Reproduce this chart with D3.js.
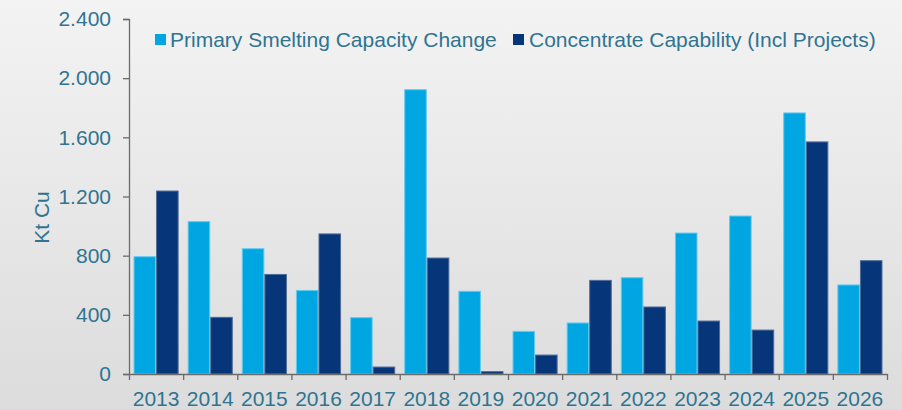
<!DOCTYPE html>
<html>
<head>
<meta charset="utf-8">
<script src="https://cdn.jsdelivr.net/npm/d3@7"></script>
<style>
  html, body { margin: 0; padding: 0; }
  body { width: 902px; height: 410px; overflow: hidden; }
  svg { display: block; font-family: 'Liberation Sans', Arial, sans-serif; }
</style>
</head>
<body>
<div id="chart"></div>
<script>
// datos (Kt Cu)
const years = ['2013', '2014', '2015', '2016', '2017', '2018', '2019', '2020', '2021', '2022', '2023', '2024', '2025', '2026']
const smelting = [793, 1030, 847, 565, 381, 1922, 559, 288, 345, 651, 953, 1068, 1765, 602]
const concentrate = [1237, 383, 673, 947, 47, 784, 16, 128, 633, 453, 358, 297, 1569, 766]
const seriesNames = ['Primary Smelting Capacity Change', 'Concentrate Capability (Incl Projects)']
const yTicks = [0, 400, 800, 1200, 1600, 2000, 2400]

const W = 902
const H = 410
const margin = { top: 19, right: 15, bottom: 36, left: 129 }
const textColor = '#2f7491'
const colors = ['#00a6e2', '#06357a']
const strokes = ['#66c9ee', '#4f6c98']

const svg = d3.select('#chart').append('svg')
  .attr('width', W)
  .attr('height', H)

// fondo degradado
const defs = svg.append('defs')
const grad = defs.append('linearGradient')
  .attr('id', 'bg')
  .attr('x1', 0).attr('y1', 0).attr('x2', 0).attr('y2', 1)
grad.append('stop').attr('offset', '0%').attr('stop-color', '#f3f3f3')
grad.append('stop').attr('offset', '100%').attr('stop-color', '#dcdcdc')
svg.append('rect').attr('width', W).attr('height', H).attr('fill', 'url(#bg)')

const x = d3.scaleBand()
  .domain(years)
  .range([margin.left, W - margin.right])
  .padding(0)

const x1 = d3.scaleBand()
  .domain([0, 1])
  .range([0, x.bandwidth()])
  .paddingInner(0)
  .paddingOuter(0.2)

const y = d3.scaleLinear()
  .domain([0, 2400])
  .range([H - margin.bottom, margin.top])

const locale = d3.formatLocale({ decimal: ',', thousands: '.', grouping: [3], currency: ['', ''] })
const fmt = locale.format(',')

// barras
const groups = svg.append('g')
  .selectAll('g')
  .data(years)
  .join('g')
  .attr('transform', d => `translate(${x(d)},0)`)

groups.selectAll('rect')
  .data((d, i) => [smelting[i], concentrate[i]])
  .join('rect')
  .attr('x', (d, i) => x1(i) + 0.5)
  .attr('y', d => y(d))
  .attr('width', x1.bandwidth() - 1)
  .attr('height', d => y(0) - y(d))
  .attr('fill', (d, i) => colors[i])
  .attr('stroke', (d, i) => strokes[i])
  .attr('stroke-width', 1)

// eje Y
const yAxis = svg.append('g')
  .attr('transform', `translate(${margin.left},0)`)
  .call(d3.axisLeft(y).tickValues(yTicks).tickFormat(fmt).tickSize(6).tickPadding(12))
yAxis.select('.domain').attr('stroke', '#6b6b6b').attr('stroke-width', 1.3)
yAxis.selectAll('.tick line').attr('stroke', '#6b6b6b').attr('stroke-width', 1.3)
yAxis.selectAll('.tick text').attr('fill', textColor).attr('font-size', 21)

// eje X: marcas en los límites de cada año
const xEdges = d3.scaleLinear().domain([0, years.length]).range([margin.left, W - margin.right])
const xAxis = svg.append('g')
  .attr('transform', `translate(0,${y(0)})`)
  .call(d3.axisBottom(xEdges).ticks(years.length).tickFormat('').tickSize(6).tickSizeOuter(0))
xAxis.select('.domain').attr('stroke', '#6b6b6b').attr('stroke-width', 1.3)
xAxis.selectAll('.tick line').attr('stroke', '#6b6b6b').attr('stroke-width', 1.3)

const xLabels = svg.append('g')
  .attr('transform', `translate(0,${y(0)})`)
  .call(d3.axisBottom(x).tickSize(0).tickPadding(17))
xLabels.select('.domain').remove()
xLabels.selectAll('.tick text').attr('fill', textColor).attr('font-size', 21)

// título del eje Y
svg.append('text')
  .attr('transform', `translate(49,${(y(0) + y(2400)) / 2 + 21}) rotate(-90)`)
  .attr('text-anchor', 'middle')
  .attr('fill', textColor)
  .attr('font-size', 21)
  .text('Kt Cu')

// leyenda
const legend = svg.append('g').attr('transform', 'translate(155,34)')
const item0 = legend.append('g')
item0.append('rect').attr('width', 11).attr('height', 11).attr('fill', colors[0])
item0.append('text').attr('x', 15).attr('y', 12.5).attr('fill', textColor).attr('font-size', 21).text(seriesNames[0])
const item1 = legend.append('g').attr('transform', 'translate(358,0)')
item1.append('rect').attr('width', 11).attr('height', 11).attr('fill', colors[1])
item1.append('text').attr('x', 16).attr('y', 12.5).attr('fill', textColor).attr('font-size', 21).text(seriesNames[1])
</script>
</body>
</html>
